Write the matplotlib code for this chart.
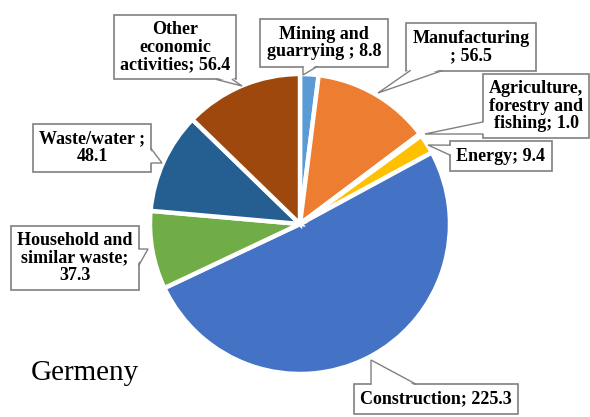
import matplotlib
matplotlib.use('Agg')
import matplotlib.pyplot as plt
import numpy as np
from matplotlib.patches import Polygon

# Waste generation by economic activity (Germany)
categories = ["Mining and\nguarrying ; {}", "Manufacturing\n; {}",
              "Agriculture,\nforestry and\nfishing; {}", "Energy; {}",
              "Construction; {}", "Household and\nsimilar waste;\n{}",
              "Waste/water ;\n{}", "Other\neconomic\nactivities; {}"]
values = [8.8, 56.5, 1.0, 9.4, 225.3, 37.3, 48.1, 56.4]
colors = ["#5B9BD5", "#ED7D31", "#A5A5A5", "#FFC000",
          "#4472C4", "#70AD47", "#255E91", "#9E480E"]
country = "Germeny"

W, H = 590, 417
EDGE = '#808080'

# callout layout in image pixels: (text x, text y, tip x, tip y, tail width)
callouts = [
    (324, 43, 303, 75, 14),
    (471, 47, 378, 93, 32),
    (536, 106, 425, 134, 12),
    (501, 156, 428, 145, 10),
    (436, 399, 371, 360, 45),
    (75, 258, 148, 249, 16),
    (92, 148, 162, 163, 14),
    (175, 47, 242, 86, 16),
]

fig = plt.figure(figsize=(W / 100, H / 100), dpi=100)
ax = fig.add_axes([0, 0, 1, 1])

ax.pie(values, colors=colors, startangle=90, counterclock=False,
       center=(300, H - 224), radius=150,
       wedgeprops=dict(edgecolor='white', linewidth=3.2))

ax.set_xlim(0, W)
ax.set_ylim(0, H)
ax.set_aspect('equal')
ax.axis('off')

texts = []
for label, v, c in zip(categories, values, callouts):
    t = ax.text(c[0], H - c[1], label.format(v), ha='center', va='center',
                multialignment='center', family='Liberation Serif',
                fontweight='bold', fontsize=13, linespacing=1.05, zorder=3,
                bbox=dict(boxstyle='square,pad=0.35', fc='white', ec=EDGE, lw=1.2))
    texts.append(t)

ax.text(85, H - 373, country, ha='center', va='center',
        family='Liberation Serif', fontsize=21)

# callout tails: thin triangles from the box edge to the slice
fig.canvas.draw()
renderer = fig.canvas.get_renderer()
inv = ax.transData.inverted()
for t, (tx, ty, px, py, w) in zip(texts, callouts):
    ext = t.get_bbox_patch().get_window_extent(renderer)
    (x0, y0), (x1, y1) = inv.transform([[ext.x0, ext.y0], [ext.x1, ext.y1]])
    tip = np.array([px, H - py])
    cx, cy = (x0 + x1) / 2, (y0 + y1) / 2
    if tip[1] < y0 or tip[1] > y1:
        yb = y0 if tip[1] < y0 else y1
        inward = 2 if yb == y0 else -2
        s = np.clip(tip[0], x0 + 4, x1 - 4)
        e = s + w * np.sign(cx - s)
        b1, b2 = np.array([s, yb]), np.array([e, yb])
        d = np.array([0, inward])
    else:
        xb = x0 if tip[0] < x0 else x1
        inward = 2 if xb == x0 else -2
        s = np.clip(tip[1], y0 + 4, y1 - 4)
        e = s + w * np.sign(cy - s)
        b1, b2 = np.array([xb, s]), np.array([xb, e])
        d = np.array([inward, 0])
    ax.add_patch(Polygon([b1 + d, b2 + d, tip], closed=True, fc='white',
                         ec='none', zorder=4))
    ax.plot([b1[0], tip[0], b2[0]], [b1[1], tip[1], b2[1]], color=EDGE,
            lw=1.0, zorder=5, solid_joinstyle='miter')

fig.savefig('out.png', dpi=100)
